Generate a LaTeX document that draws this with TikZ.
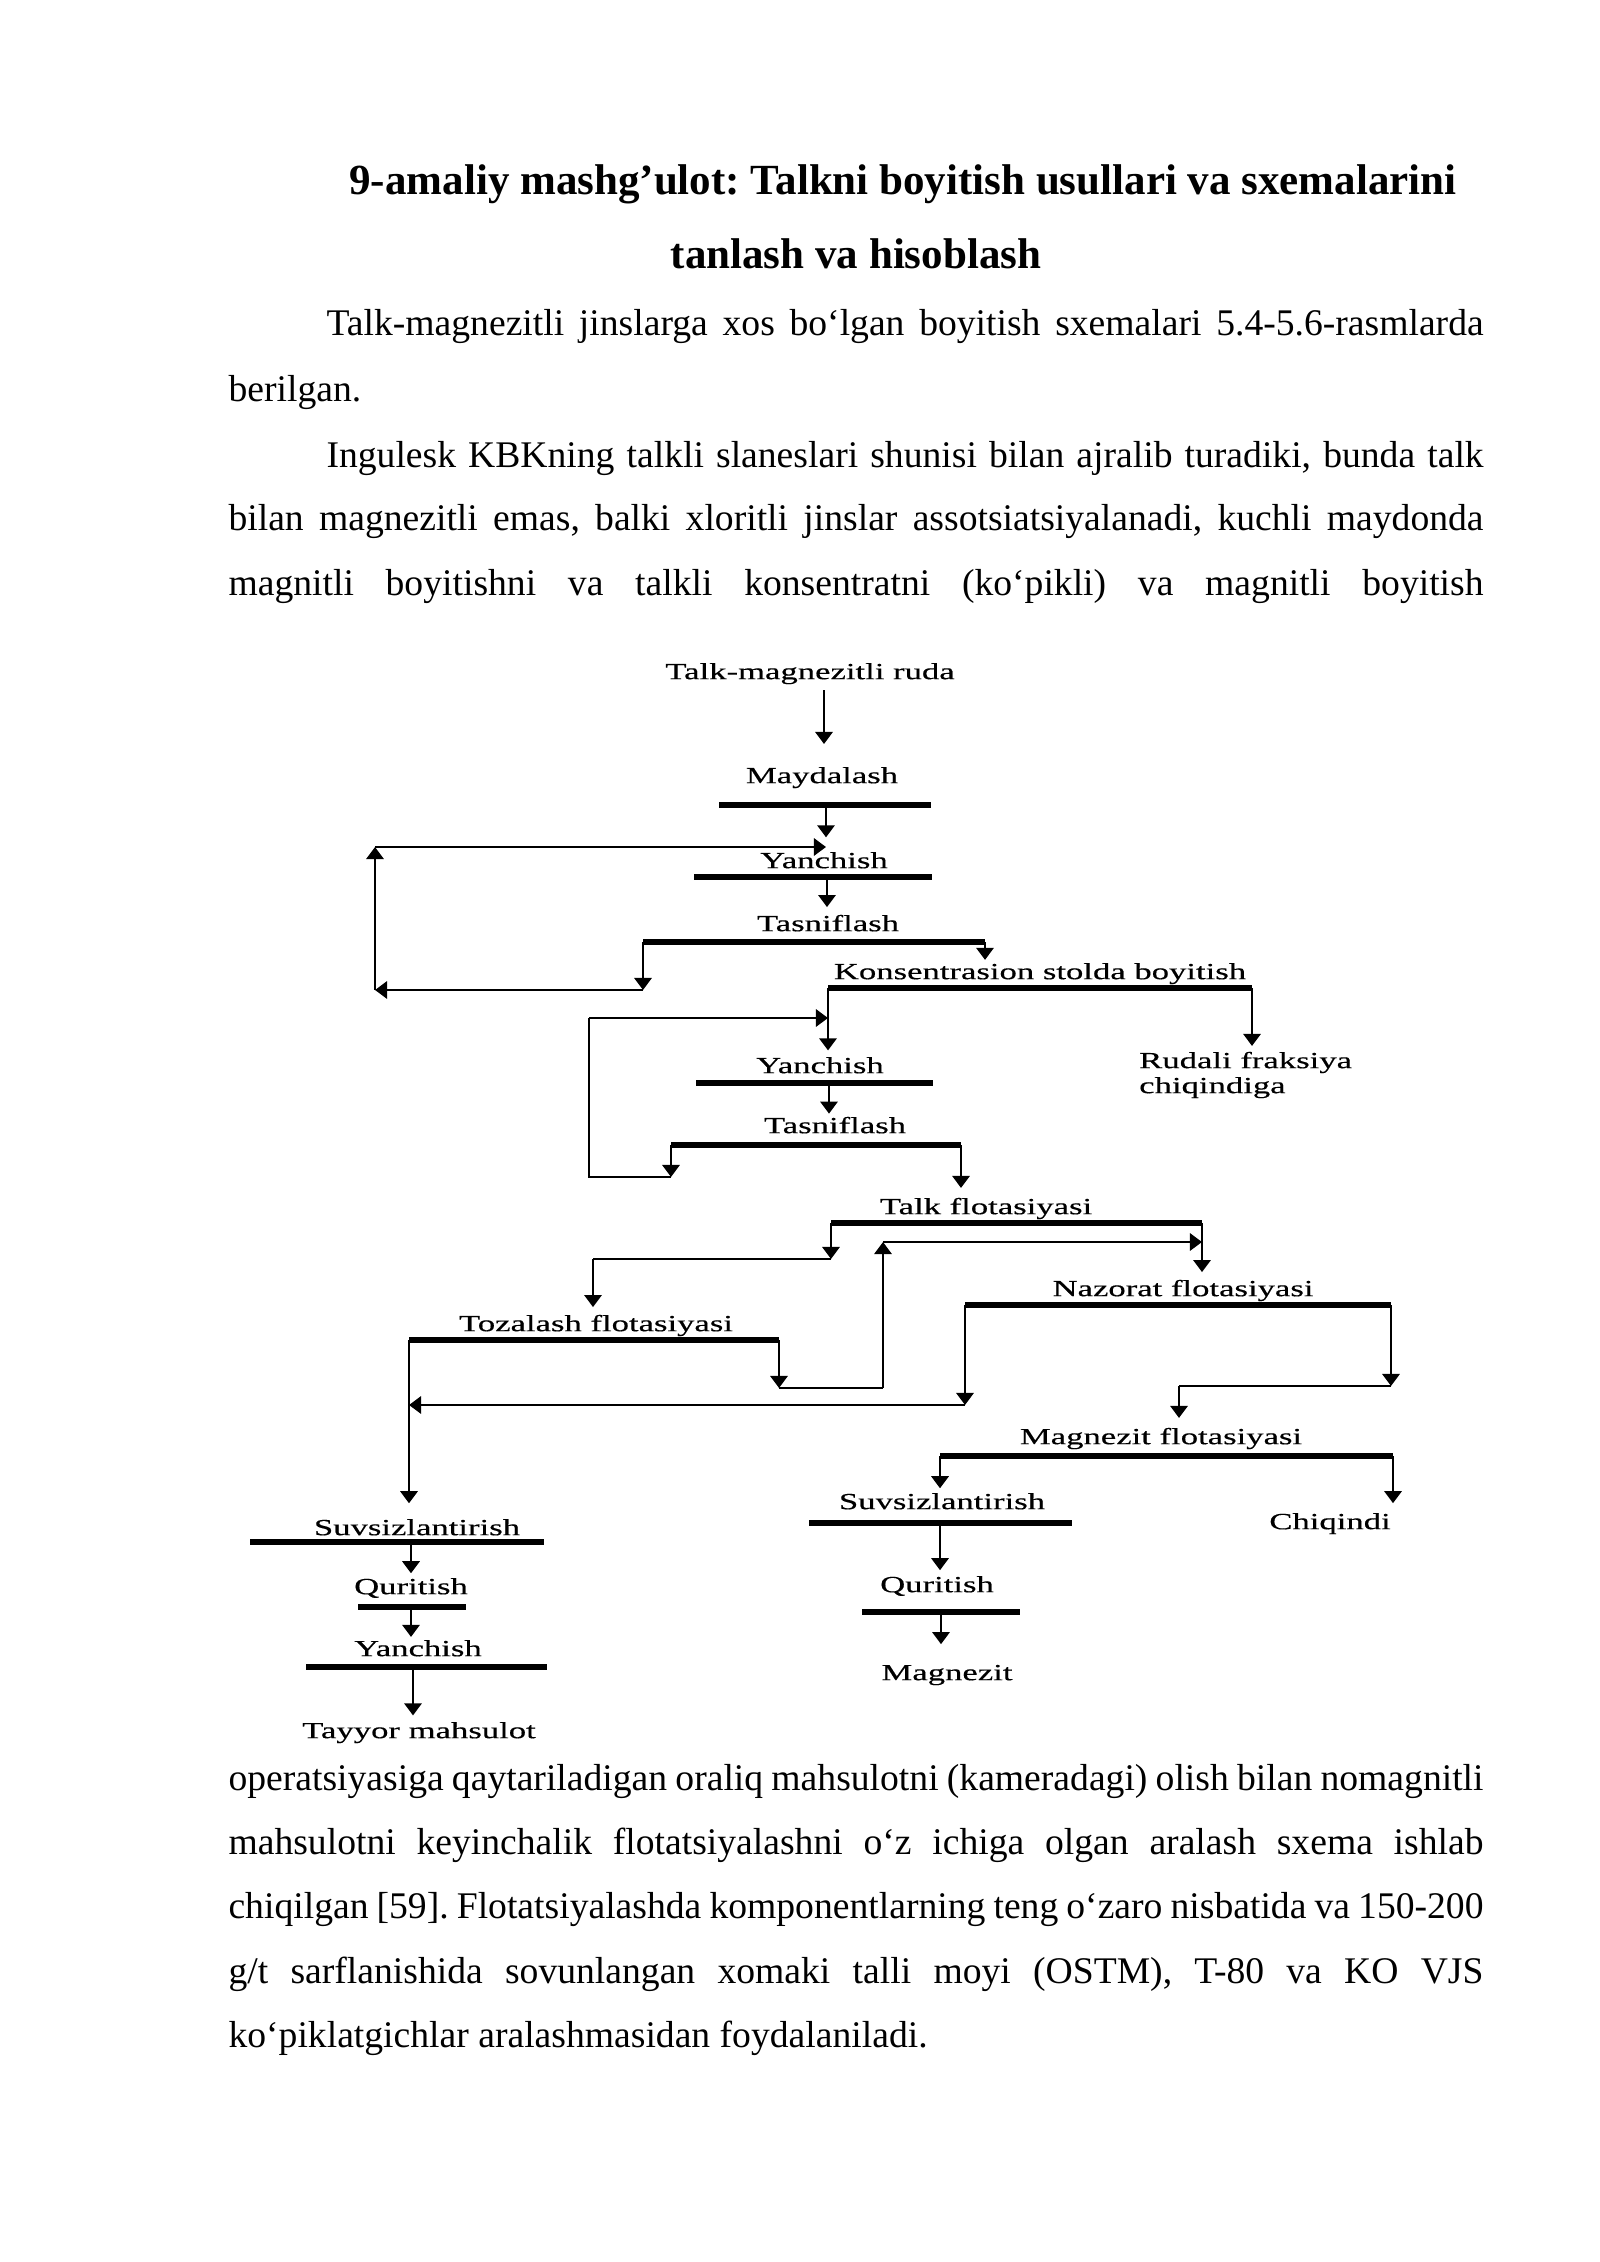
\documentclass[tikz,border=0pt]{standalone}
\usepackage{fontspec}
\setmainfont{Liberation Serif}
\newfontfamily\schemefont[FakeStretch=1.5, FakeBold=0.4]{Liberation Serif}
\usepackage{tikz}
\usetikzlibrary{arrows.meta,positioning}
\frenchspacing

\begin{document}
\begin{tikzpicture}
  [
    x=0.37206pt, y=-0.37206pt,
    Title/.style={font=\fontsize{16}{18}\selectfont\bfseries, inner sep=0pt, anchor=mid},
    Body/.style={font=\fontsize{14}{16}\selectfont, inner sep=0pt, anchor=mid west},
    Label/.style={font=\schemefont\fontsize{8.6}{9.3}\selectfont, inner sep=1pt, anchor=mid},
    Bar/.style={line width=2.2pt},
    Line/.style={line width=1pt},
    Flow/.style={line width=1pt, -{Triangle[length=4.5pt, width=6.4pt]}}
  ]
  \fill[white] (0,0) rectangle (1600,2262);
  \useasboundingbox (0,0) rectangle (1600,2262);

  % Text
  \node[Title] (t1) at (903,188) {9-amaliy mashg’ulot: Talkni boyitish usullari va sxemalarini};
  \node[Title] (t2) at (856,262) {tanlash va hisoblash};
  \node[Body] (p1a) at (326,329) {\makebox[430.5pt][s]{Talk-magnezitli jinslarga xos bo‘lgan boyitish sxemalari 5.4-5.6-rasmlarda}};
  \node[Body] (p1b) at (228,395) {berilgan.};
  \node[Body] (p2a) at (326,461) {\makebox[430.5pt][s]{Ingulesk KBKning talkli slaneslari shunisi bilan ajralib turadiki, bunda talk}};
  \node[Body] (p2b) at (228,524) {\makebox[466.9pt][s]{bilan magnezitli emas, balki xloritli jinslar assotsiatsiyalanadi, kuchli maydonda}};
  \node[Body] (p2c) at (228,589) {\makebox[466.9pt][s]{magnitli boyitishni va talkli konsentratni (ko‘pikli) va magnitli boyitish}};
  \node[Body] (p3a) at (228,1784) {\makebox[466.9pt][s]{operatsiyasiga qaytariladigan oraliq mahsulotni (kameradagi) olish bilan nomagnitli}};
  \node[Body] (p3b) at (228,1848) {\makebox[466.9pt][s]{mahsulotni keyinchalik flotatsiyalashni o‘z ichiga olgan aralash sxema ishlab}};
  \node[Body] (p3c) at (228,1912) {\makebox[466.9pt][s]{chiqilgan [59]. Flotatsiyalashda komponentlarning teng o‘zaro nisbatida va 150-200}};
  \node[Body] (p3d) at (228,1977) {\makebox[466.9pt][s]{g/t sarflanishida sovunlangan xomaki talli moyi (OSTM), T-80 va KO VJS}};
  \node[Body] (p3e) at (228,2041) {ko‘piklatgichlar aralashmasidan foydalaniladi.};

  % Nodes
  \node[Label] (ruda) at (810,673) {Talk-magnezitli ruda};
  \node[Label] (mayd) at (822,777) {Maydalash};
  \node[Label] (yan1) at (824,862) {Yanchish};
  \node[Label] (tas1) at (828,925) {Tasniflash};
  \node[Label] (kons) at (1040,973) {Konsentrasion stolda boyitish};
  \node[Label] (yan2) at (820,1067) {Yanchish};
  \node[Label, anchor=west, align=left] (rud) at (1136,1075) {Rudali fraksiya\\chiqindiga};
  \node[Label] (tas2) at (835,1127) {Tasniflash};
  \node[Label] (talk) at (986,1208) {Talk flotasiyasi};
  \node[Label] (naz) at (1183,1290) {Nazorat flotasiyasi};
  \node[Label] (toz) at (596,1325) {Tozalash flotasiyasi};
  \node[Label] (magf) at (1161,1438) {Magnezit flotasiyasi};
  \node[Label] (suv1) at (417,1529) {Suvsizlantirish};
  \node[Label] (qur1) at (411,1588) {Quritish};
  \node[Label] (yan3) at (418,1650) {Yanchish};
  \node[Label] (tay) at (419,1732) {Tayyor mahsulot};
  \node[Label] (suv2) at (942,1503) {Suvsizlantirish};
  \node[Label] (chiq) at (1330,1523) {Chiqindi};
  \node[Label] (qur2) at (937,1586) {Quritish};
  \node[Label] (mag) at (947,1674) {Magnezit};

  % Bars
  \coordinate (b1w) at (719,805);   \coordinate (b1e) at (931,805);
  \coordinate (b2w) at (694,877);   \coordinate (b2e) at (932,877);
  \coordinate (b3w) at (643,942);   \coordinate (b3e) at (985,942);
  \coordinate (b4w) at (828,988);   \coordinate (b4e) at (1252,988);
  \coordinate (b5w) at (696,1083);  \coordinate (b5e) at (933,1083);
  \coordinate (b6w) at (671,1145);  \coordinate (b6e) at (961,1145);
  \coordinate (b7w) at (831,1223);  \coordinate (b7e) at (1202,1223);
  \coordinate (b8w) at (965,1305);  \coordinate (b8e) at (1391,1305);
  \coordinate (b9w) at (409,1340);  \coordinate (b9e) at (779,1340);
  \coordinate (b10w) at (940,1456); \coordinate (b10e) at (1393,1456);
  \coordinate (b11w) at (250,1542); \coordinate (b11e) at (544,1542);
  \coordinate (b12w) at (358,1607); \coordinate (b12e) at (466,1607);
  \coordinate (b13w) at (306,1667); \coordinate (b13e) at (547,1667);
  \coordinate (b14w) at (809,1523); \coordinate (b14e) at (1072,1523);
  \coordinate (b15w) at (862,1612); \coordinate (b15e) at (1020,1612);
  \draw[Bar] (b1w) -- (b1e);
  \draw[Bar] (b2w) -- (b2e);
  \draw[Bar] (b3w) -- (b3e);
  \draw[Bar] (b4w) -- (b4e);
  \draw[Bar] (b5w) -- (b5e);
  \draw[Bar] (b6w) -- (b6e);
  \draw[Bar] (b7w) -- (b7e);
  \draw[Bar] (b8w) -- (b8e);
  \draw[Bar] (b9w) -- (b9e);
  \draw[Bar] (b10w) -- (b10e);
  \draw[Bar] (b11w) -- (b11e);
  \draw[Bar] (b12w) -- (b12e);
  \draw[Bar] (b13w) -- (b13e);
  \draw[Bar] (b14w) -- (b14e);
  \draw[Bar] (b15w) -- (b15e);

  % Stems and corners
  \coordinate (s0) at (824,690);
  \coordinate (s1) at (826,805);
  \coordinate (s2) at (827,877);
  \coordinate (s5) at (829,1083);
  \coordinate (s11) at (411,1542);
  \coordinate (s12) at (411,1607);
  \coordinate (s13) at (413,1667);
  \coordinate (s14) at (940,1523);
  \coordinate (s15) at (941,1612);
  \coordinate (r1) at (375,990);
  \coordinate (r2) at (375,847);
  \coordinate (r3) at (589,1177);
  \coordinate (r4) at (589,1018);
  \coordinate (r5) at (593,1259);
  \coordinate (r6) at (883,1388);
  \coordinate (r7) at (883,1242);
  \coordinate (r8) at (409,1405);
  \coordinate (r9) at (1179,1386);

  % Lines
  \draw[Flow, shorten >=7.4pt] (s0) -- (s0 |- mayd.north);
  \draw[Flow, shorten >=4.3pt] (s1) -- (s1 |- yan1.north);
  \draw[Flow, shorten >=1.7pt] (s2) -- (s2 |- tas1.north);
  \draw[Flow] (b3e) -- (b3e |- kons.north);
  \draw[Flow] (b3w) -- (b3w |- r1);
  \draw[Flow] (b3w |- r1) -- (r1);
  \draw[Flow] (r1) -- (r2);
  \draw[Flow] (r2) -- (r2 -| s1);
  \draw[Flow, shorten >=1.3pt] (b4w) -- (b4w |- yan2.north);
  \draw[Flow, shorten >=1pt] (b4e) -- (b4e |- rud.north);
  \draw[Flow] (s5) -- (s5 |- tas2.north);
  \draw[Flow] (b6w) -- (b6w |- r3);
  \draw[Line] (b6w |- r3) -- (r3) -- (r4);
  \draw[Flow] (r4) -- (r4 -| b4w);
  \draw[Flow, shorten >=2.5pt] (b6e) -- (b6e |- talk.north);
  \draw[Flow] (b7w) -- (b7w |- r5);
  \draw[Line] (b7w |- r5) -- (r5);
  \draw[Flow, shorten >=1.7pt] (r5) -- (r5 |- toz.north);
  \draw[Flow, shorten >=1.7pt] (b7e) -- (b7e |- naz.north);
  \draw[Flow] (b9e) -- (b9e |- r6);
  \draw[Line] (b9e |- r6) -- (r6);
  \draw[Flow] (r6) -- (r7);
  \draw[Flow] (r7) -- (r7 -| b7e);
  \draw[Flow] (b8w) -- (b8w |- r8);
  \draw[Flow] (b8w |- r8) -- (r8);
  \draw[Flow] (b8e) -- (b8e |- r9);
  \draw[Line] (b8e |- r9) -- (r9);
  \draw[Flow, shorten >=2.5pt] (r9) -- (r9 |- magf.north);
  \draw[Flow, shorten >=4.7pt] (b9w) -- (b9w |- suv1.north);
  \draw[Flow, shorten >=0.6pt] (b10w) -- (b10w |- suv2.north);
  \draw[Flow, shorten >=2.5pt] (b10e) -- (b10e |- chiq.north);
  \draw[Flow, shorten >=0.6pt] (s11) -- (s11 |- qur1.north);
  \draw[Flow] (s12) -- (s12 |- yan3.north);
  \draw[Flow, shorten >=1.3pt] (s13) -- (s13 |- tay.north);
  \draw[Flow, shorten >=1pt] (s14) -- (s14 |- qur2.north);
  \draw[Flow, shorten >=6.5pt] (s15) -- (s15 |- mag.north);

\end{tikzpicture}
\end{document}
